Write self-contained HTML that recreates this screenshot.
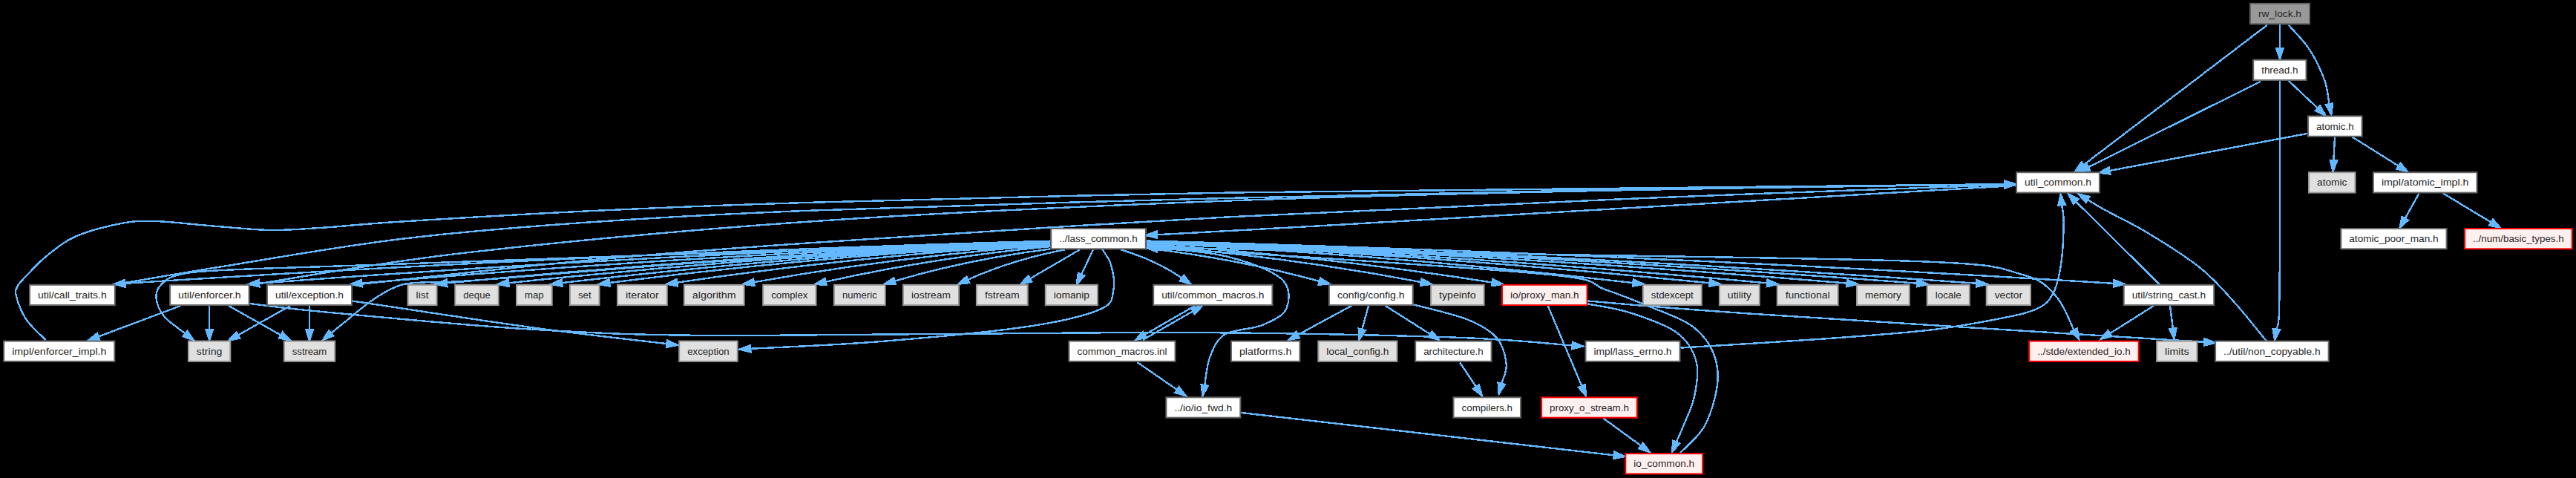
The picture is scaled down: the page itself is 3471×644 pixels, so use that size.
<!DOCTYPE html><html><head><meta charset="utf-8"><style>html,body{margin:0;padding:0;background:#000;width:3471px;height:644px;overflow:hidden}</style></head><body><svg width="3471" height="644" viewBox="0 0 3471 644" style="display:block"><rect width="3471" height="644" fill="#000"/><g fill="none" stroke="#63b8ff" stroke-width="2.4" stroke-linejoin="miter" shape-rendering="crispEdges"><path d="M3071.97,33.20 L3071.91,65.18"/><polygon fill="#63b8ff" points="3067.21,65.17 3071.88,79.68 3076.61,65.19"/><path d="M3083.80,33.80 C3088.40,39.17 3103.37,53.72 3111.40,66.00 C3119.43,78.28 3127.49,95.14 3132.00,107.50 C3136.51,119.86 3137.40,134.73 3138.48,140.18"/><polygon fill="#63b8ff" points="3133.87,141.09 3141.30,154.40 3143.09,139.26"/><path d="M3054.80,33.80 L2807.64,222.02"/><polygon fill="#63b8ff" points="2804.79,218.28 2796.10,230.80 2810.48,225.75"/><path d="M3046.00,109.80 L2813.69,225.25"/><polygon fill="#63b8ff" points="2811.59,221.04 2800.70,231.70 2815.78,229.46"/><path d="M3083.80,108.80 L3122.96,145.84"/><polygon fill="#63b8ff" points="3119.74,149.25 3133.50,155.80 3126.19,142.42"/><path d="M3072.00,109.50 C3072.00,141.25 3072.17,248.25 3072.00,300.00 C3071.83,351.75 3071.79,396.05 3071.00,420.00 C3070.21,443.95 3067.88,439.73 3067.26,443.68"/><polygon fill="#63b8ff" points="3062.62,442.94 3065.00,458.00 3071.90,444.41"/><path d="M3110.00,179.70 L2842.55,230.02"/><polygon fill="#63b8ff" points="2841.68,225.40 2828.30,232.70 2843.42,234.64"/><path d="M3146.00,184.30 L3144.35,216.32"/><polygon fill="#63b8ff" points="3139.65,216.08 3143.60,230.80 3149.04,216.56"/><path d="M3169.77,184.76 L3231.93,223.56"/><polygon fill="#63b8ff" points="3229.44,227.55 3244.23,231.24 3234.42,219.57"/><path d="M3259.53,260.54 L3240.68,294.36"/><polygon fill="#63b8ff" points="3236.57,292.07 3233.62,307.02 3244.78,296.64"/><path d="M3292.00,260.54 L3356.68,299.53"/><polygon fill="#63b8ff" points="3354.25,303.56 3369.10,307.02 3359.11,295.51"/><path d="M2716.00,250.00 C2557.67,259.17 1958.87,293.96 1766.00,305.00 C1573.13,316.04 1593.32,314.35 1558.78,316.22"/><polygon fill="#63b8ff" points="1558.52,311.52 1544.30,317.00 1559.03,320.91"/><path d="M1415.20,324.66 C994.73,336.29 579.09,355.36 168.27,381.87"/><polygon fill="#63b8ff" points="167.97,377.18 153.80,382.80 168.57,386.56"/><path d="M1415.20,325.13 C1055.00,336.66 699.62,355.53 349.06,381.72"/><polygon fill="#63b8ff" points="348.71,377.03 334.60,382.80 349.41,386.41"/><path d="M1415.20,325.60 C1101.13,337.04 791.88,355.70 487.45,381.57"/><polygon fill="#63b8ff" points="487.05,376.89 473.00,382.80 487.85,386.26"/><path d="M1415.20,326.11 C1139.30,337.45 868.21,355.88 601.93,381.42"/><polygon fill="#63b8ff" points="601.49,376.74 587.50,382.80 602.38,386.09"/><path d="M1415.20,326.56 C1167.03,337.81 923.67,356.05 685.12,381.28"/><polygon fill="#63b8ff" points="684.63,376.60 670.70,382.80 685.61,385.95"/><path d="M1415.20,327.04 C1191.03,338.19 971.67,356.22 757.10,381.13"/><polygon fill="#63b8ff" points="756.56,376.46 742.70,382.80 757.65,385.80"/><path d="M1415.20,327.55 C1212.33,338.60 1014.26,356.41 820.98,380.97"/><polygon fill="#63b8ff" points="820.39,376.31 806.60,382.80 821.58,385.63"/><path d="M1415.20,328.47 C1242.73,339.34 1075.05,356.74 912.15,380.69"/><polygon fill="#63b8ff" points="911.46,376.04 897.80,382.80 912.83,385.34"/><path d="M1415.20,329.95 C1277.33,340.52 1144.22,357.29 1015.87,380.25"/><polygon fill="#63b8ff" points="1015.05,375.62 1001.60,382.80 1016.70,384.87"/><path d="M1415.20,332.05 C1309.63,342.20 1208.78,358.06 1112.65,379.63"/><polygon fill="#63b8ff" points="1111.62,375.04 1098.50,382.80 1113.68,384.21"/><path d="M1415.20,335.41 C1340.70,344.89 1270.83,359.31 1205.60,378.67"/><polygon fill="#63b8ff" points="1204.26,374.17 1191.70,382.80 1206.94,383.18"/><path d="M1434.71,336.32 C1386.80,345.62 1343.30,359.12 1304.21,376.82"/><polygon fill="#63b8ff" points="1302.27,372.54 1291.00,382.80 1306.15,381.10"/><path d="M1454.93,336.32 L1387.89,375.49"/><polygon fill="#63b8ff" points="1385.52,371.43 1375.37,382.80 1390.26,379.54"/><path d="M1473.01,336.32 L1457.08,369.71"/><polygon fill="#63b8ff" points="1452.84,367.69 1450.84,382.80 1461.32,371.74"/><path d="M1509.83,336.32 C1541.38,345.62 1568.94,358.37 1592.52,374.58"/><polygon fill="#63b8ff" points="1589.86,378.46 1604.47,382.80 1595.18,370.71"/><path d="M1544.80,334.37 C1627.17,344.06 1704.87,358.92 1777.92,378.96"/><polygon fill="#63b8ff" points="1776.67,383.50 1791.90,382.80 1779.16,374.43"/><path d="M1544.80,330.49 C1672.90,340.95 1796.25,357.48 1914.86,380.09"/><polygon fill="#63b8ff" points="1913.98,384.70 1929.10,382.80 1915.74,375.47"/><path d="M1544.80,328.94 C1704.87,339.71 1860.16,356.91 2010.68,380.55"/><polygon fill="#63b8ff" points="2009.95,385.19 2025.00,382.80 2011.40,375.91"/><path d="M1544.80,327.06 C1768.13,338.21 1986.67,356.23 2200.40,381.12"/><polygon fill="#63b8ff" points="2199.85,385.79 2214.80,382.80 2200.94,376.45"/><path d="M1544.80,326.40 C1802.50,337.68 2055.39,355.99 2303.48,381.33"/><polygon fill="#63b8ff" points="2303.00,386.00 2317.90,382.80 2303.95,376.65"/><path d="M1544.80,326.00 C1828.43,337.36 2107.25,355.84 2381.26,381.45"/><polygon fill="#63b8ff" points="2380.83,386.13 2395.70,382.80 2381.70,376.77"/><path d="M1544.80,325.54 C1864.20,336.99 2178.78,355.68 2488.55,381.59"/><polygon fill="#63b8ff" points="2488.16,386.27 2503.00,382.80 2488.94,376.91"/><path d="M1544.80,325.21 C1895.77,336.73 2241.91,355.56 2583.24,381.69"/><polygon fill="#63b8ff" points="2582.88,386.38 2597.70,382.80 2583.60,377.01"/><path d="M1544.80,324.98 C1922.43,336.54 2295.25,355.47 2663.24,381.77"/><polygon fill="#63b8ff" points="2662.90,386.45 2677.70,382.80 2663.57,377.08"/><path d="M1544.80,324.53 C1984.10,336.19 2418.58,355.31 2848.23,381.90"/><polygon fill="#63b8ff" points="2847.94,386.60 2862.70,382.80 2848.52,377.21"/><path d="M1415.00,330.00 C1329.17,332.17 1052.50,338.50 900.00,343.00 C747.50,347.50 600.00,353.50 500.00,357.00 C400.00,360.50 343.67,361.67 300.00,364.00 C256.33,366.33 252.17,367.33 238.00,371.00 C223.83,374.67 219.53,380.58 215.00,386.00 C210.47,391.42 209.92,396.95 210.80,403.50 C211.68,410.05 215.55,418.95 220.30,425.30 C225.05,431.65 234.43,437.56 239.30,441.60 C244.17,445.64 247.83,448.20 249.53,449.52"/><polygon fill="#63b8ff" points="246.66,453.24 261.00,458.40 252.41,445.81"/><path d="M1415.00,332.00 C1345.83,335.00 1129.17,342.38 1000.00,350.00 C870.83,357.62 711.50,372.63 640.00,377.70 C568.50,382.77 587.92,379.27 571.00,380.40 C554.08,381.53 549.83,380.65 538.50,384.50 C527.17,388.35 515.75,394.92 503.00,403.50 C490.25,412.08 471.46,428.44 462.00,436.00 C452.54,443.56 448.87,446.70 446.24,448.84"/><polygon fill="#63b8ff" points="443.27,445.20 435.00,458.00 449.21,452.48"/><path d="M1485.40,336.00 C1487.33,339.47 1494.50,347.77 1497.00,356.80 C1499.50,365.83 1502.90,380.17 1500.40,390.20 C1497.90,400.23 1501.80,408.63 1482.00,417.00 C1462.20,425.37 1431.80,433.15 1381.60,440.40 C1331.40,447.65 1242.54,455.60 1180.80,460.50 C1119.06,465.40 1039.45,468.25 1011.18,469.81"/><polygon fill="#63b8ff" points="1010.92,465.11 996.70,470.60 1011.44,474.50"/><path d="M1545.00,334.00 C1637.50,335.50 1924.17,339.88 2100.00,343.00 C2275.83,346.12 2496.00,348.25 2600.00,352.70 C2704.00,357.15 2695.77,362.17 2724.00,369.70 C2752.23,377.23 2757.64,385.41 2769.40,397.90 C2781.16,410.39 2790.34,436.84 2794.53,444.63"/><polygon fill="#63b8ff" points="2790.39,446.86 2801.40,457.40 2798.67,442.40"/><path d="M1545.00,332.50 C1562.60,334.58 1620.43,337.88 1650.60,345.00 C1680.77,352.12 1712.18,363.47 1726.00,375.20 C1739.82,386.93 1737.70,404.93 1733.50,415.40 C1729.30,425.87 1714.62,432.15 1700.80,438.00 C1686.98,443.85 1662.32,443.40 1650.60,450.50 C1638.88,457.60 1635.07,469.17 1630.50,480.60 C1625.93,492.03 1624.42,512.65 1623.20,519.05"/><polygon fill="#63b8ff" points="1618.59,518.18 1620.50,533.30 1627.82,519.93"/><path d="M1821.30,411.80 L1748.75,451.09"/><polygon fill="#63b8ff" points="1746.51,446.96 1736.00,458.00 1750.99,455.23"/><path d="M1844.00,411.80 L1835.22,444.01"/><polygon fill="#63b8ff" points="1830.68,442.77 1831.40,458.00 1839.75,445.25"/><path d="M1866.50,411.80 L1927.06,450.23"/><polygon fill="#63b8ff" points="1924.54,454.20 1939.30,458.00 1929.58,446.26"/><path d="M1904.20,410.30 C1916.33,413.65 1958.20,422.87 1977.00,430.40 C1995.80,437.93 2008.22,445.45 2017.00,455.50 C2025.78,465.55 2028.67,480.49 2029.70,490.70 C2030.73,500.91 2024.29,512.39 2023.21,516.73"/><polygon fill="#63b8ff" points="2018.65,515.59 2019.70,530.80 2027.77,517.87"/><path d="M1967.00,488.20 L1988.97,521.23"/><polygon fill="#63b8ff" points="1985.06,523.83 1997.00,533.30 1992.88,518.62"/><path d="M1610.00,412.00 L1542.57,450.77"/><polygon fill="#63b8ff" points="1540.23,446.70 1530.00,458.00 1544.91,454.85"/><path d="M1540.00,458.00 L1607.43,419.23"/><polygon fill="#63b8ff" points="1609.77,423.30 1620.00,412.00 1605.09,415.15"/><path d="M1532.60,488.20 L1585.97,525.06"/><polygon fill="#63b8ff" points="1583.30,528.93 1597.90,533.30 1588.64,521.19"/><path d="M1672.30,556.00 L2174.89,613.36"/><polygon fill="#63b8ff" points="2174.36,618.03 2189.30,615.00 2175.43,608.69"/><path d="M2263.70,610.50 C2269.32,604.25 2288.97,588.88 2297.40,573.00 C2305.83,557.12 2312.70,532.07 2314.30,515.20 C2315.90,498.33 2313.05,484.67 2307.00,471.80 C2300.95,458.93 2291.67,447.63 2278.00,438.00 C2264.33,428.37 2244.23,422.00 2225.00,414.00 C2205.77,406.00 2183.43,397.12 2162.60,390.00 C2141.77,382.88 2160.43,378.13 2100.00,371.30 C2039.57,364.47 1890.09,355.07 1800.00,349.00 C1709.91,342.93 1599.56,337.21 1559.47,334.85"/><polygon fill="#63b8ff" points="1559.75,330.16 1545.00,334.00 1559.20,339.54"/><path d="M157.00,383.00 C180.83,379.00 236.17,369.17 300.00,359.00 C363.83,348.83 456.67,332.00 540.00,322.00 C623.33,312.00 706.67,305.43 800.00,299.00 C893.33,292.57 956.67,288.77 1100.00,283.40 C1243.33,278.03 1476.67,271.53 1660.00,266.80 C1843.33,262.07 2026.50,258.10 2200.00,255.00 C2373.50,251.90 2617.50,249.33 2701.00,248.20"/><polygon fill="#63b8ff" points="2701.07,252.90 2715.50,248.00 2700.94,243.50"/><path d="M337.00,384.00 C386.17,376.67 504.83,354.35 632.00,340.00 C759.17,325.65 928.67,309.52 1100.00,297.90 C1271.33,286.28 1476.67,277.28 1660.00,270.30 C1843.33,263.32 2026.50,259.68 2200.00,256.00 C2373.50,252.32 2617.50,249.52 2701.00,248.22"/><polygon fill="#63b8ff" points="2701.07,252.92 2715.50,248.00 2700.93,243.53"/><path d="M282.30,412.10 L282.20,444.08"/><polygon fill="#63b8ff" points="277.50,444.06 282.15,458.58 286.90,444.10"/><path d="M308.39,412.10 L378.37,451.47"/><polygon fill="#63b8ff" points="376.07,455.57 391.01,458.58 380.68,447.37"/><path d="M336.40,409.00 C353.67,410.93 376.15,414.78 440.00,420.60 C503.85,426.42 627.83,438.63 719.50,443.90 C811.17,449.17 851.58,451.55 990.00,452.20 C1128.42,452.85 1390.00,447.47 1550.00,447.80 C1710.00,448.13 1855.24,451.26 1950.00,454.20 C2044.76,457.14 2090.44,463.56 2118.53,465.44"/><polygon fill="#63b8ff" points="2118.22,470.13 2133.00,466.40 2118.84,460.75"/><path d="M243.18,412.10 L132.50,453.50"/><polygon fill="#63b8ff" points="130.85,449.10 118.92,458.58 134.14,457.90"/><path d="M61.60,458.00 C57.30,453.50 42.42,440.80 35.80,431.00 C29.18,421.20 23.90,406.82 21.90,399.20 C19.90,391.58 21.48,389.93 23.80,385.30 C26.12,380.67 29.83,377.68 35.80,371.40 C41.77,365.12 49.00,356.22 59.60,347.60 C70.20,338.98 82.83,327.32 99.40,319.70 C115.97,312.08 141.12,305.53 159.00,301.90 C176.88,298.27 184.37,297.38 206.70,297.90 C229.03,298.42 266.45,302.98 293.00,305.00 C319.55,307.02 341.60,309.77 366.00,310.00 C390.40,310.23 410.40,308.30 439.40,306.40 C468.40,304.50 479.90,302.33 540.00,298.60 C600.10,294.87 706.67,288.33 800.00,284.00 C893.33,279.67 956.67,276.68 1100.00,272.60 C1243.33,268.52 1476.67,262.68 1660.00,259.50 C1843.33,256.32 2026.50,255.39 2200.00,253.50 C2373.50,251.61 2617.50,249.05 2701.00,248.15"/><polygon fill="#63b8ff" points="2701.05,252.85 2715.50,248.00 2700.95,243.45"/><path d="M2264.50,468.60 C2295.42,466.67 2394.58,460.93 2450.00,457.00 C2505.42,453.07 2556.90,449.50 2597.00,445.00 C2637.10,440.50 2666.27,434.72 2690.60,430.00 C2714.93,425.28 2730.48,422.23 2743.00,416.70 C2755.52,411.17 2760.03,406.83 2765.70,396.80 C2771.37,386.77 2774.50,372.63 2777.00,356.50 C2779.50,340.37 2780.51,313.40 2780.70,300.00 C2780.89,286.60 2778.57,280.10 2778.14,276.12"/><polygon fill="#63b8ff" points="2782.82,275.62 2776.60,261.70 2773.47,276.62"/><path d="M475.00,384.00 C529.17,378.33 695.83,359.55 800.00,350.00 C904.17,340.45 956.67,336.35 1100.00,326.70 C1243.33,317.05 1476.67,301.95 1660.00,292.10 C1843.33,282.25 2026.50,274.78 2200.00,267.60 C2373.50,260.42 2617.51,252.13 2701.01,249.04"/><polygon fill="#63b8ff" points="2701.18,253.73 2715.50,248.50 2700.84,244.34"/><path d="M390.92,412.10 L320.82,451.48"/><polygon fill="#63b8ff" points="318.52,447.38 308.18,458.58 323.12,455.58"/><path d="M417.01,412.10 L417.03,444.08"/><polygon fill="#63b8ff" points="412.33,444.08 417.04,458.58 421.73,444.08"/><path d="M475.00,405.50 C515.75,411.52 648.92,431.99 719.50,441.60 C790.08,451.21 868.67,459.57 898.50,463.17"/><polygon fill="#63b8ff" points="897.94,467.83 912.90,464.90 899.07,458.50"/><path d="M2138.50,409.30 C2148.13,411.30 2176.23,414.88 2196.30,421.30 C2216.37,427.72 2244.05,436.97 2258.90,447.80 C2273.75,458.63 2281.38,471.87 2285.40,486.30 C2289.42,500.73 2285.82,519.95 2283.00,534.40 C2280.18,548.85 2272.54,562.79 2268.50,573.00 C2264.46,583.21 2260.36,591.90 2258.73,595.68"/><polygon fill="#63b8ff" points="2254.42,593.82 2253.00,609.00 2263.05,597.54"/><path d="M2085.50,411.50 L2131.36,520.14"/><polygon fill="#63b8ff" points="2127.03,521.97 2137.00,533.50 2135.69,518.31"/><path d="M2138.50,405.40 C2175.42,408.28 2221.36,413.47 2360.00,422.70 C2498.64,431.93 2868.61,454.45 2970.33,460.80"/><polygon fill="#63b8ff" points="2970.04,465.49 2984.80,461.70 2970.62,456.11"/><path d="M2160.00,563.30 L2211.08,600.47"/><polygon fill="#63b8ff" points="2208.31,604.27 2222.80,609.00 2213.84,596.67"/><path d="M3053.80,459.40 C3046.50,450.58 3024.97,423.00 3010.00,406.50 C2995.03,390.00 2983.17,375.75 2964.00,360.40 C2944.83,345.05 2916.50,327.43 2895.00,314.40 C2873.50,301.37 2848.65,289.77 2835.00,282.20 C2821.35,274.63 2816.76,271.19 2813.11,268.99"/><polygon fill="#63b8ff" points="2815.54,264.97 2800.70,261.50 2810.69,273.02"/><path d="M2910.20,383.50 L2797.30,271.70"/><polygon fill="#63b8ff" points="2800.61,268.36 2787.00,261.50 2794.00,275.04"/><path d="M2902.00,412.00 L2842.87,449.27"/><polygon fill="#63b8ff" points="2840.36,445.29 2830.60,457.00 2845.37,453.24"/><path d="M2924.00,412.00 L2927.81,442.61"/><polygon fill="#63b8ff" points="2923.15,443.19 2929.60,457.00 2932.47,442.03"/></g><g font-family="Liberation Sans, sans-serif" font-size="13" text-anchor="middle" fill="#262626"><rect x="3032.00" y="4.90" width="80.00" height="27.30" fill="#999999" stroke="#666666" stroke-width="2.00"/><text x="3072.00" y="23.15" textLength="58.0" lengthAdjust="spacingAndGlyphs">rw_lock.h</text><rect x="3036.20" y="80.68" width="71.30" height="27.30" fill="#ffffff" stroke="#666666" stroke-width="2.00"/><text x="3071.85" y="98.93" textLength="49.4" lengthAdjust="spacingAndGlyphs">thread.h</text><rect x="3110.00" y="156.46" width="72.60" height="27.30" fill="#ffffff" stroke="#666666" stroke-width="2.00"/><text x="3146.30" y="174.71" textLength="50.6" lengthAdjust="spacingAndGlyphs">atomic.h</text><rect x="2717.10" y="232.24" width="111.80" height="27.30" fill="#ffffff" stroke="#666666" stroke-width="2.00"/><text x="2773.00" y="250.49" textLength="89.9" lengthAdjust="spacingAndGlyphs">util_common.h</text><rect x="3111.00" y="232.24" width="62.50" height="27.30" fill="#e0e0e0" stroke="#999999" stroke-width="2.00"/><text x="3142.25" y="250.49" textLength="40.5" lengthAdjust="spacingAndGlyphs">atomic</text><rect x="3197.90" y="232.24" width="139.60" height="27.30" fill="#ffffff" stroke="#666666" stroke-width="2.00"/><text x="3267.70" y="250.49" textLength="117.6" lengthAdjust="spacingAndGlyphs">impl/atomic_impl.h</text><rect x="1416.20" y="308.02" width="127.60" height="27.30" fill="#ffffff" stroke="#666666" stroke-width="2.00"/><text x="1480.00" y="326.27" textLength="105.6" lengthAdjust="spacingAndGlyphs">../lass_common.h</text><rect x="3154.30" y="308.02" width="142.30" height="27.30" fill="#ffffff" stroke="#666666" stroke-width="2.00"/><text x="3225.45" y="326.27" textLength="120.3" lengthAdjust="spacingAndGlyphs">atomic_poor_man.h</text><rect x="3321.10" y="308.02" width="144.60" height="27.30" fill="#fff0f0" stroke="#ff0000" stroke-width="2.00"/><text x="3393.40" y="326.27" textLength="122.6" lengthAdjust="spacingAndGlyphs">../num/basic_types.h</text><rect x="40.00" y="383.80" width="114.80" height="27.30" fill="#ffffff" stroke="#666666" stroke-width="2.00"/><text x="97.40" y="402.05" textLength="92.9" lengthAdjust="spacingAndGlyphs">util/call_traits.h</text><rect x="229.10" y="383.80" width="106.50" height="27.30" fill="#ffffff" stroke="#666666" stroke-width="2.00"/><text x="282.35" y="402.05" textLength="84.6" lengthAdjust="spacingAndGlyphs">util/enforcer.h</text><rect x="360.00" y="383.80" width="114.00" height="27.30" fill="#ffffff" stroke="#666666" stroke-width="2.00"/><text x="417.00" y="402.05" textLength="92.0" lengthAdjust="spacingAndGlyphs">util/exception.h</text><rect x="549.60" y="383.80" width="38.90" height="27.30" fill="#e0e0e0" stroke="#999999" stroke-width="2.00"/><text x="569.05" y="402.05" textLength="16.9" lengthAdjust="spacingAndGlyphs">list</text><rect x="613.30" y="383.80" width="58.40" height="27.30" fill="#e0e0e0" stroke="#999999" stroke-width="2.00"/><text x="642.50" y="402.05" textLength="36.5" lengthAdjust="spacingAndGlyphs">deque</text><rect x="696.00" y="383.80" width="47.70" height="27.30" fill="#e0e0e0" stroke="#999999" stroke-width="2.00"/><text x="719.85" y="402.05" textLength="25.8" lengthAdjust="spacingAndGlyphs">map</text><rect x="768.00" y="383.80" width="39.60" height="27.30" fill="#e0e0e0" stroke="#999999" stroke-width="2.00"/><text x="787.80" y="402.05" textLength="17.7" lengthAdjust="spacingAndGlyphs">set</text><rect x="832.00" y="383.80" width="66.80" height="27.30" fill="#e0e0e0" stroke="#999999" stroke-width="2.00"/><text x="865.40" y="402.05" textLength="44.8" lengthAdjust="spacingAndGlyphs">iterator</text><rect x="921.90" y="383.80" width="80.70" height="27.30" fill="#e0e0e0" stroke="#999999" stroke-width="2.00"/><text x="962.25" y="402.05" textLength="58.8" lengthAdjust="spacingAndGlyphs">algorithm</text><rect x="1028.20" y="383.80" width="71.30" height="27.30" fill="#e0e0e0" stroke="#999999" stroke-width="2.00"/><text x="1063.85" y="402.05" textLength="49.3" lengthAdjust="spacingAndGlyphs">complex</text><rect x="1123.90" y="383.80" width="68.80" height="27.30" fill="#e0e0e0" stroke="#999999" stroke-width="2.00"/><text x="1158.30" y="402.05" textLength="46.8" lengthAdjust="spacingAndGlyphs">numeric</text><rect x="1217.00" y="383.80" width="75.00" height="27.30" fill="#e0e0e0" stroke="#999999" stroke-width="2.00"/><text x="1254.50" y="402.05" textLength="53.0" lengthAdjust="spacingAndGlyphs">iostream</text><rect x="1315.90" y="383.80" width="68.80" height="27.30" fill="#e0e0e0" stroke="#999999" stroke-width="2.00"/><text x="1350.30" y="402.05" textLength="46.8" lengthAdjust="spacingAndGlyphs">fstream</text><rect x="1408.80" y="383.80" width="70.10" height="27.30" fill="#e0e0e0" stroke="#999999" stroke-width="2.00"/><text x="1443.85" y="402.05" textLength="48.2" lengthAdjust="spacingAndGlyphs">iomanip</text><rect x="1554.20" y="383.80" width="160.20" height="27.30" fill="#ffffff" stroke="#666666" stroke-width="2.00"/><text x="1634.30" y="402.05" textLength="138.3" lengthAdjust="spacingAndGlyphs">util/common_macros.h</text><rect x="1790.90" y="383.80" width="112.80" height="27.30" fill="#ffffff" stroke="#666666" stroke-width="2.00"/><text x="1847.30" y="402.05" textLength="90.8" lengthAdjust="spacingAndGlyphs">config/config.h</text><rect x="1928.10" y="383.80" width="71.50" height="27.30" fill="#e0e0e0" stroke="#999999" stroke-width="2.00"/><text x="1963.85" y="402.05" textLength="49.5" lengthAdjust="spacingAndGlyphs">typeinfo</text><rect x="2024.00" y="383.80" width="114.50" height="27.30" fill="#fff0f0" stroke="#ff0000" stroke-width="2.00"/><text x="2081.25" y="402.05" textLength="92.5" lengthAdjust="spacingAndGlyphs">io/proxy_man.h</text><rect x="2213.80" y="383.80" width="79.00" height="27.30" fill="#e0e0e0" stroke="#999999" stroke-width="2.00"/><text x="2253.30" y="402.05" textLength="57.0" lengthAdjust="spacingAndGlyphs">stdexcept</text><rect x="2316.90" y="383.80" width="53.90" height="27.30" fill="#e0e0e0" stroke="#999999" stroke-width="2.00"/><text x="2343.85" y="402.05" textLength="32.0" lengthAdjust="spacingAndGlyphs">utility</text><rect x="2394.70" y="383.80" width="81.90" height="27.30" fill="#e0e0e0" stroke="#999999" stroke-width="2.00"/><text x="2435.65" y="402.05" textLength="60.0" lengthAdjust="spacingAndGlyphs">functional</text><rect x="2502.00" y="383.80" width="70.80" height="27.30" fill="#e0e0e0" stroke="#999999" stroke-width="2.00"/><text x="2537.40" y="402.05" textLength="48.9" lengthAdjust="spacingAndGlyphs">memory</text><rect x="2596.70" y="383.80" width="57.10" height="27.30" fill="#e0e0e0" stroke="#999999" stroke-width="2.00"/><text x="2625.25" y="402.05" textLength="35.2" lengthAdjust="spacingAndGlyphs">locale</text><rect x="2676.70" y="383.80" width="59.30" height="27.30" fill="#e0e0e0" stroke="#999999" stroke-width="2.00"/><text x="2706.35" y="402.05" textLength="37.4" lengthAdjust="spacingAndGlyphs">vector</text><rect x="2861.70" y="383.80" width="121.50" height="27.30" fill="#ffffff" stroke="#666666" stroke-width="2.00"/><text x="2922.45" y="402.05" textLength="99.5" lengthAdjust="spacingAndGlyphs">util/string_cast.h</text><rect x="5.20" y="459.58" width="149.10" height="27.30" fill="#ffffff" stroke="#666666" stroke-width="2.00"/><text x="79.75" y="477.83" textLength="127.2" lengthAdjust="spacingAndGlyphs">impl/enforcer_impl.h</text><rect x="253.90" y="459.58" width="56.40" height="27.30" fill="#e0e0e0" stroke="#999999" stroke-width="2.00"/><text x="282.10" y="477.83" textLength="34.5" lengthAdjust="spacingAndGlyphs">string</text><rect x="382.90" y="459.58" width="68.30" height="27.30" fill="#e0e0e0" stroke="#999999" stroke-width="2.00"/><text x="417.05" y="477.83" textLength="46.4" lengthAdjust="spacingAndGlyphs">sstream</text><rect x="915.20" y="459.58" width="78.50" height="27.30" fill="#e0e0e0" stroke="#999999" stroke-width="2.00"/><text x="954.45" y="477.83" textLength="56.5" lengthAdjust="spacingAndGlyphs">exception</text><rect x="1440.40" y="459.58" width="143.10" height="27.30" fill="#ffffff" stroke="#666666" stroke-width="2.00"/><text x="1511.95" y="477.83" textLength="121.1" lengthAdjust="spacingAndGlyphs">common_macros.inl</text><rect x="1659.00" y="459.58" width="92.40" height="27.30" fill="#ffffff" stroke="#666666" stroke-width="2.00"/><text x="1705.20" y="477.83" textLength="70.5" lengthAdjust="spacingAndGlyphs">platforms.h</text><rect x="1776.30" y="459.58" width="106.10" height="27.30" fill="#e0e0e0" stroke="#999999" stroke-width="2.00"/><text x="1829.35" y="477.83" textLength="84.2" lengthAdjust="spacingAndGlyphs">local_config.h</text><rect x="1907.20" y="459.58" width="102.40" height="27.30" fill="#ffffff" stroke="#666666" stroke-width="2.00"/><text x="1958.40" y="477.83" textLength="80.4" lengthAdjust="spacingAndGlyphs">architecture.h</text><rect x="2136.50" y="459.58" width="127.00" height="27.30" fill="#ffffff" stroke="#666666" stroke-width="2.00"/><text x="2200.00" y="477.83" textLength="105.0" lengthAdjust="spacingAndGlyphs">impl/lass_errno.h</text><rect x="2734.20" y="459.58" width="147.50" height="27.30" fill="#fff0f0" stroke="#ff0000" stroke-width="2.00"/><text x="2807.95" y="477.83" textLength="125.5" lengthAdjust="spacingAndGlyphs">../stde/extended_io.h</text><rect x="2906.10" y="459.58" width="54.40" height="27.30" fill="#e0e0e0" stroke="#999999" stroke-width="2.00"/><text x="2933.30" y="477.83" textLength="32.5" lengthAdjust="spacingAndGlyphs">limits</text><rect x="2985.10" y="459.58" width="152.50" height="27.30" fill="#ffffff" stroke="#666666" stroke-width="2.00"/><text x="3061.35" y="477.83" textLength="130.5" lengthAdjust="spacingAndGlyphs">../util/non_copyable.h</text><rect x="1571.40" y="535.36" width="99.90" height="27.30" fill="#ffffff" stroke="#666666" stroke-width="2.00"/><text x="1621.35" y="553.61" textLength="77.9" lengthAdjust="spacingAndGlyphs">../io/io_fwd.h</text><rect x="1958.50" y="535.36" width="90.50" height="27.30" fill="#ffffff" stroke="#666666" stroke-width="2.00"/><text x="2003.75" y="553.61" textLength="68.5" lengthAdjust="spacingAndGlyphs">compilers.h</text><rect x="2077.10" y="535.36" width="128.70" height="27.30" fill="#fff0f0" stroke="#ff0000" stroke-width="2.00"/><text x="2141.45" y="553.61" textLength="106.8" lengthAdjust="spacingAndGlyphs">proxy_o_stream.h</text><rect x="2190.30" y="611.14" width="103.90" height="27.30" fill="#fff0f0" stroke="#ff0000" stroke-width="2.00"/><text x="2242.25" y="629.39" textLength="81.9" lengthAdjust="spacingAndGlyphs">io_common.h</text></g></svg></body></html>
